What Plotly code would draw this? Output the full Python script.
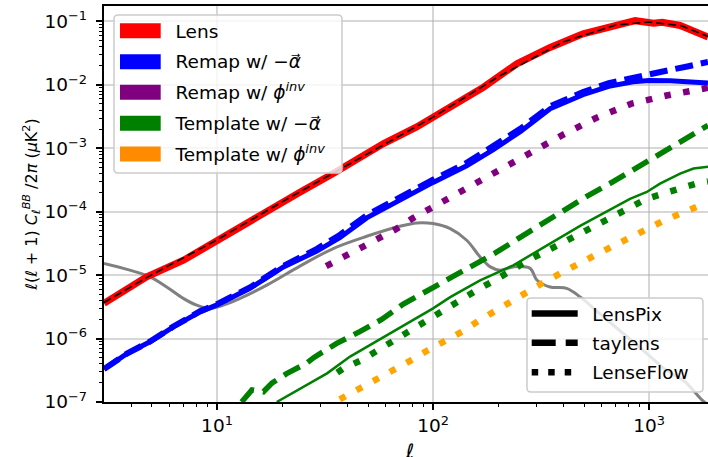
import plotly.graph_objects as go

# ---------------- data ----------------
ell_lens = [3, 4.1, 4.73, 7, 10, 17, 24.3, 34.5, 41.3, 59, 84, 120, 171, 244, 348, 494,
            658, 735, 861, 1047, 1150, 1390, 1603, 1871]
cl_lens = [3.6e-6, 6.7e-6, 9.4e-6, 1.72e-5, 3.56e-5, 1.06e-4, 2.05e-4, 4.0e-4, 5.7e-4, 1.19e-3,
           2.17e-3, 4.47e-3, 9.2e-3, 2.15e-2, 3.9e-2, 6.4e-2,
           8.3e-2, 9.2e-2, 0.103, 0.094, 0.097, 0.0865, 0.072, 0.057]

ell_theory = [3, 5, 10, 20, 40, 100, 200, 400, 700, 1000, 1400, 1871]
cl_theory = [3.7e-6, 1.02e-5, 3.6e-5, 1.43e-4, 5.4e-4, 3.1e-3, 1.34e-2, 4.75e-2, 8.8e-2, 0.098, 0.086, 0.058]

ell_remap = [3, 3.83, 4.9, 6.28, 8.35, 10, 14.2, 20.3, 29, 37, 49.3, 70.3, 100, 143, 190, 254,
             348, 494, 650, 843, 1000, 1250, 1500, 1871]
cl_remap_lenspix = [3.3e-7, 5.8e-7, 8.9e-7, 1.53e-6, 2.64e-6, 3.4e-6, 6.2e-6, 1.35e-5, 2.4e-5, 3.9e-5,
                    8.0e-5, 1.55e-4, 2.9e-4, 5.3e-4, 9.5e-4, 1.85e-3, 4.2e-3, 7.0e-3, 9.5e-3,
                    1.12e-2, 1.17e-2, 1.16e-2, 1.12e-2, 1.07e-2]
cl_remap_taylens = [3.3e-7, 5.8e-7, 9.0e-7, 1.55e-6, 2.7e-6, 3.5e-6, 6.4e-6, 1.4e-5, 2.6e-5, 4.3e-5,
                    8.8e-5, 1.72e-4, 3.2e-4, 5.9e-4, 1.06e-3, 2.05e-3, 4.6e-3, 7.7e-3, 1.07e-2,
                    1.32e-2, 1.48e-2, 1.72e-2, 1.95e-2, 2.3e-2]

ell_remap_inv = [32, 38.5, 46, 55, 67, 80, 95, 114, 136, 162, 194, 231, 276, 394, 571, 828,
                 1202, 1715, 1871]
cl_remap_inv = [1.39e-5, 1.94e-5, 2.73e-5, 3.78e-5, 5.25e-5, 7.8e-5, 1.08e-4, 1.52e-4, 2.13e-4,
                3.06e-4, 4.4e-4, 6.1e-4, 8.3e-4, 1.6e-3, 3.04e-3, 5.06e-3, 6.8e-3, 8.7e-3, 9.0e-3]

ell_tmpl_taylens = [13, 14.5, 16.4, 18, 21, 26, 28, 35.8, 46, 57.8, 72.8, 118, 165, 194, 272, 336,
                    514, 684, 975, 1340, 1871]
cl_tmpl_taylens = [1.0e-7, 1.55e-7, 1.45e-7, 2.0e-7, 2.8e-7, 4.1e-7, 5.0e-7, 8.4e-7, 1.3e-6, 2.0e-6,
                   3.5e-6, 8.9e-6, 1.62e-5, 2.24e-5, 4.6e-5, 7.2e-5, 1.75e-4, 3.0e-4, 6.2e-4,
                   1.18e-3, 2.3e-3]

ell_tmpl_lenspix = [18.9, 24.3, 32.3, 41.3, 49.3, 70.3, 100, 120, 143, 165, 235, 336, 479, 815,
                    975, 1122, 1250, 1390, 1603, 1871]
cl_tmpl_lenspix = [1.0e-7, 1.65e-7, 2.83e-7, 5.2e-7, 7.4e-7, 1.53e-6, 3.0e-6, 4.5e-6, 6.3e-6, 8.3e-6,
                   1.43e-5, 2.96e-5, 6.0e-5, 1.6e-4, 2.05e-4, 2.78e-4, 3.3e-4, 4.0e-4, 4.8e-4, 5.1e-4]

ell_tmpl_lenseflow = [36, 38.5, 46.8, 55.8, 66.7, 79.7, 95, 114, 136, 162, 194, 231, 276, 394, 684,
                      975, 1164, 1414, 1686, 1871]
cl_tmpl_lenseflow = [2.9e-7, 3.4e-7, 4.6e-7, 6.6e-7, 9.7e-7, 1.44e-6, 2.08e-6, 3.0e-6, 4.3e-6, 6.0e-6,
                     8.4e-6, 1.2e-5, 1.72e-5, 3.2e-5, 8.8e-5, 1.6e-4, 1.94e-4, 2.4e-4, 2.84e-4, 3.0e-4]

ell_tmpl_inv = [37, 46, 55.8, 66.7, 79.7, 95, 114, 136, 162, 190, 228, 273, 329, 561, 800, 1164,
                1686, 1871]
cl_tmpl_inv = [1.1e-7, 1.64e-7, 2.28e-7, 3.19e-7, 4.6e-7, 6.6e-7, 9.2e-7, 1.28e-6, 1.9e-6, 2.64e-6,
               3.8e-6, 5.5e-6, 7.9e-6, 2.06e-5, 3.78e-5, 7.2e-5, 1.22e-4, 1.4e-4]

ell_prim = [3, 3.95, 4.9, 5.85, 6.98, 8.05, 9.31, 10.7, 12.8, 17, 24.3, 34.5, 49.3, 70.3, 84, 100,
            120, 143, 165, 184, 204, 235, 281, 302, 348, 415, 479, 600, 800, 1000, 1200, 1439,
            1752, 1871]
cl_prim = [1.53e-5, 1.2e-5, 9.4e-6, 6.5e-6, 4.3e-6, 3.37e-6, 2.99e-6, 3.37e-6, 4.3e-6, 6.97e-6,
           1.4e-5, 2.63e-5, 4.1e-5, 5.9e-5, 6.67e-5, 6.5e-5, 5.4e-5, 3.55e-5, 1.94e-5, 1.35e-5,
           1.2e-5, 1.35e-5, 1.28e-5, 8.4e-6, 6.5e-6, 6.2e-6, 4.55e-6, 2.36e-6, 1.03e-6, 5.4e-7,
           3.15e-7, 2.2e-7, 1.08e-7, 9.0e-8]

legend_methods = ["Lens", "Remap w/ −<i>α⃗</i>", "Remap w/ <i>ϕ</i><sup><i>inv</i></sup>",
                  "Template w/ −<i>α⃗</i>", "Template w/ <i>ϕ</i><sup><i>inv</i></sup>"]
legend_colors = ["#ff0000", "#0000ff", "#800080", "#008000", "#ff8c00"]
legend_codes = ["LensPix", "taylens", "LenseFlow"]

x_tickvals = [10, 100, 1000]
x_ticktext = ["10<sup>1</sup>", "10<sup>2</sup>", "10<sup>3</sup>"]
y_tickvals = [1e-7, 1e-6, 1e-5, 1e-4, 1e-3, 1e-2, 1e-1]
y_ticktext = ["10<sup>−7</sup>", "10<sup>−6</sup>", "10<sup>−5</sup>", "10<sup>−4</sup>",
              "10<sup>−3</sup>", "10<sup>−2</sup>", "10<sup>−1</sup>"]
x_minor = [4, 5, 6, 7, 8, 9, 20, 30, 40, 50, 60, 70, 80, 90, 200, 300, 400, 500, 600, 700, 800, 900]
y_minor = [m * 10.0 ** e for e in range(-7, 0) for m in range(2, 10)]

# ---------------- figure ----------------
FONT = "DejaVu Sans"
W, H = 708, 457
ML, MR, MT, MB = 104, 0, 6, 55
PW, PH = W - ML - MR, H - MT - MB

def px_x(px):
    return (px - ML) / PW

def px_y(py):
    return (H - MB - py) / PH

fig = go.Figure()

def line(x, y, color, width, dash="solid", shape="linear"):
    fig.add_trace(go.Scatter(x=x, y=y, mode="lines", showlegend=False, hoverinfo="skip",
                             line=dict(color=color, width=width, dash=dash, shape=shape)))

line(ell_prim, cl_prim, "#808080", 3, shape="spline")
line(ell_lens, cl_lens, "#ff0000", 7)
line(ell_theory, cl_theory, "#000000", 1.6, dash="8px,4px")
line(ell_remap, cl_remap_lenspix, "#0000ff", 5)
line(ell_remap, cl_remap_taylens, "#0000ff", 6, dash="18px,8px")
line(ell_remap_inv, cl_remap_inv, "#800080", 6.5, dash="6.5px,12.5px")
line(ell_tmpl_taylens, cl_tmpl_taylens, "#008000", 5.5, dash="18px,9px")
line(ell_tmpl_lenspix, cl_tmpl_lenspix, "#008000", 2.5)
line(ell_tmpl_lenseflow, cl_tmpl_lenseflow, "#008000", 6.5, dash="6.5px,12.5px")
line(ell_tmpl_inv, cl_tmpl_inv, "#ffa500", 6.5, dash="6.5px,12.5px")

# legend boxes (drawn as shapes so every row can be placed exactly)
def rounded_box(x0, y0, x1, y1, r=4):
    X0, X1 = px_x(x0), px_x(x1)
    Y0, Y1 = px_y(y0), px_y(y1)  # Y0 top (larger), Y1 bottom
    rx, ry = r / PW, r / PH
    return (f"M{X0 + rx},{Y0} L{X1 - rx},{Y0} Q{X1},{Y0} {X1},{Y0 - ry} "
            f"L{X1},{Y1 + ry} Q{X1},{Y1} {X1 - rx},{Y1} L{X0 + rx},{Y1} "
            f"Q{X0},{Y1} {X0},{Y1 + ry} L{X0},{Y0 - ry} Q{X0},{Y0} {X0 + rx},{Y0} Z")

shapes = [
    dict(type="path", xref="paper", yref="paper", layer="above",
         path=rounded_box(114, 15, 342, 173), fillcolor="rgba(255,255,255,0.8)",
         line=dict(color="#cccccc", width=1.5)),
    dict(type="path", xref="paper", yref="paper", layer="above",
         path=rounded_box(527, 298, 703, 392), fillcolor="rgba(255,255,255,0.8)",
         line=dict(color="#cccccc", width=1.5)),
]

legends = {}
PAD = "\u00a0\u2009"
rows1 = [30.8, 61.7, 92.3, 123.3, 154]
k = 1
for name, col, yc in zip(legend_methods, legend_colors, rows1):
    key = "legend" if k == 1 else f"legend{k}"
    # colour patch of the legend row
    shapes.append(dict(type="rect", xref="paper", yref="paper", layer="above",
                       x0=px_x(120), x1=px_x(160.7), y0=px_y(yc + 7.5), y1=px_y(yc - 7.5),
                       fillcolor=col, line=dict(width=0)))
    fig.add_trace(go.Scatter(x=[None], y=[None], mode="lines", name=PAD + name, legend=key,
                             line=dict(color="rgba(0,0,0,0)", width=1)))
    legends[key] = dict(x=px_x(115), y=px_y(yc), xanchor="left", yanchor="middle",
                        bgcolor="rgba(0,0,0,0)", borderwidth=0, itemwidth=41,
                        font=dict(family=FONT, size=18.5, color="black"))
    k += 1
rows2 = [314, 343.3, 372.7]
code_dash = ["solid", "24px,10px", "6.5px,10px"]
for name, d, yc in zip(legend_codes, code_dash, rows2):
    key = f"legend{k}"
    fig.add_trace(go.Scatter(x=[None], y=[None], mode="lines", name=PAD + name, legend=key,
                             line=dict(color="#000000", width=6.5, dash=d)))
    legends[key] = dict(x=px_x(526.7), y=px_y(yc), xanchor="left", yanchor="middle",
                        bgcolor="rgba(0,0,0,0)", borderwidth=0, itemwidth=46,
                        font=dict(family=FONT, size=18.5, color="black"))
    k += 1

axis_common = dict(
    type="log", showline=True, linecolor="black", linewidth=1.5,
    ticks="outside", ticklen=6.5, tickwidth=1.5, tickcolor="black",
    showgrid=True, gridcolor="rgba(176,176,176,0.5)", gridwidth=1.5,
    zeroline=False, tickmode="array",
    tickfont=dict(family=FONT, size=18.5, color="black"),
)

fig.update_layout(
    width=W, height=H,
    margin=dict(l=ML, r=MR, t=MT, b=MB),
    paper_bgcolor="white", plot_bgcolor="white",
    font=dict(family=FONT, size=18.5, color="black"),
    shapes=shapes,
    xaxis=dict(axis_common, range=[0.47712, 3.2721], mirror=True,
               tickvals=x_tickvals, ticktext=x_ticktext,
               minor=dict(tickmode="array", tickvals=x_minor, ticks="outside", ticklen=3.7,
                          tickwidth=1.1, tickcolor="black", showgrid=False)),
    yaxis=dict(axis_common, range=[-7, -0.756], mirror=False, ticklabelstandoff=5,
               tickvals=y_tickvals, ticktext=y_ticktext,
               minor=dict(tickmode="array", tickvals=y_minor, ticks="outside", ticklen=3.7,
                          tickwidth=1.1, tickcolor="black", showgrid=False),
               title=dict(text="<i>ℓ</i>(<i>ℓ</i> + 1) <i>C</i><sub><i>ℓ</i></sub><sup><i>BB</i></sup> /2<i>π</i> (<i>μ</i>K<sup>2</sup>)",
                          standoff=3, font=dict(family=FONT, size=16))),
    annotations=[dict(text="<i>ℓ</i>", xref="paper", yref="paper", x=px_x(409), y=px_y(451),
                      xanchor="center", yanchor="middle", showarrow=False,
                      font=dict(family=FONT, size=20, color="black"))],
    **legends,
)

fig.write_html("out.html")
